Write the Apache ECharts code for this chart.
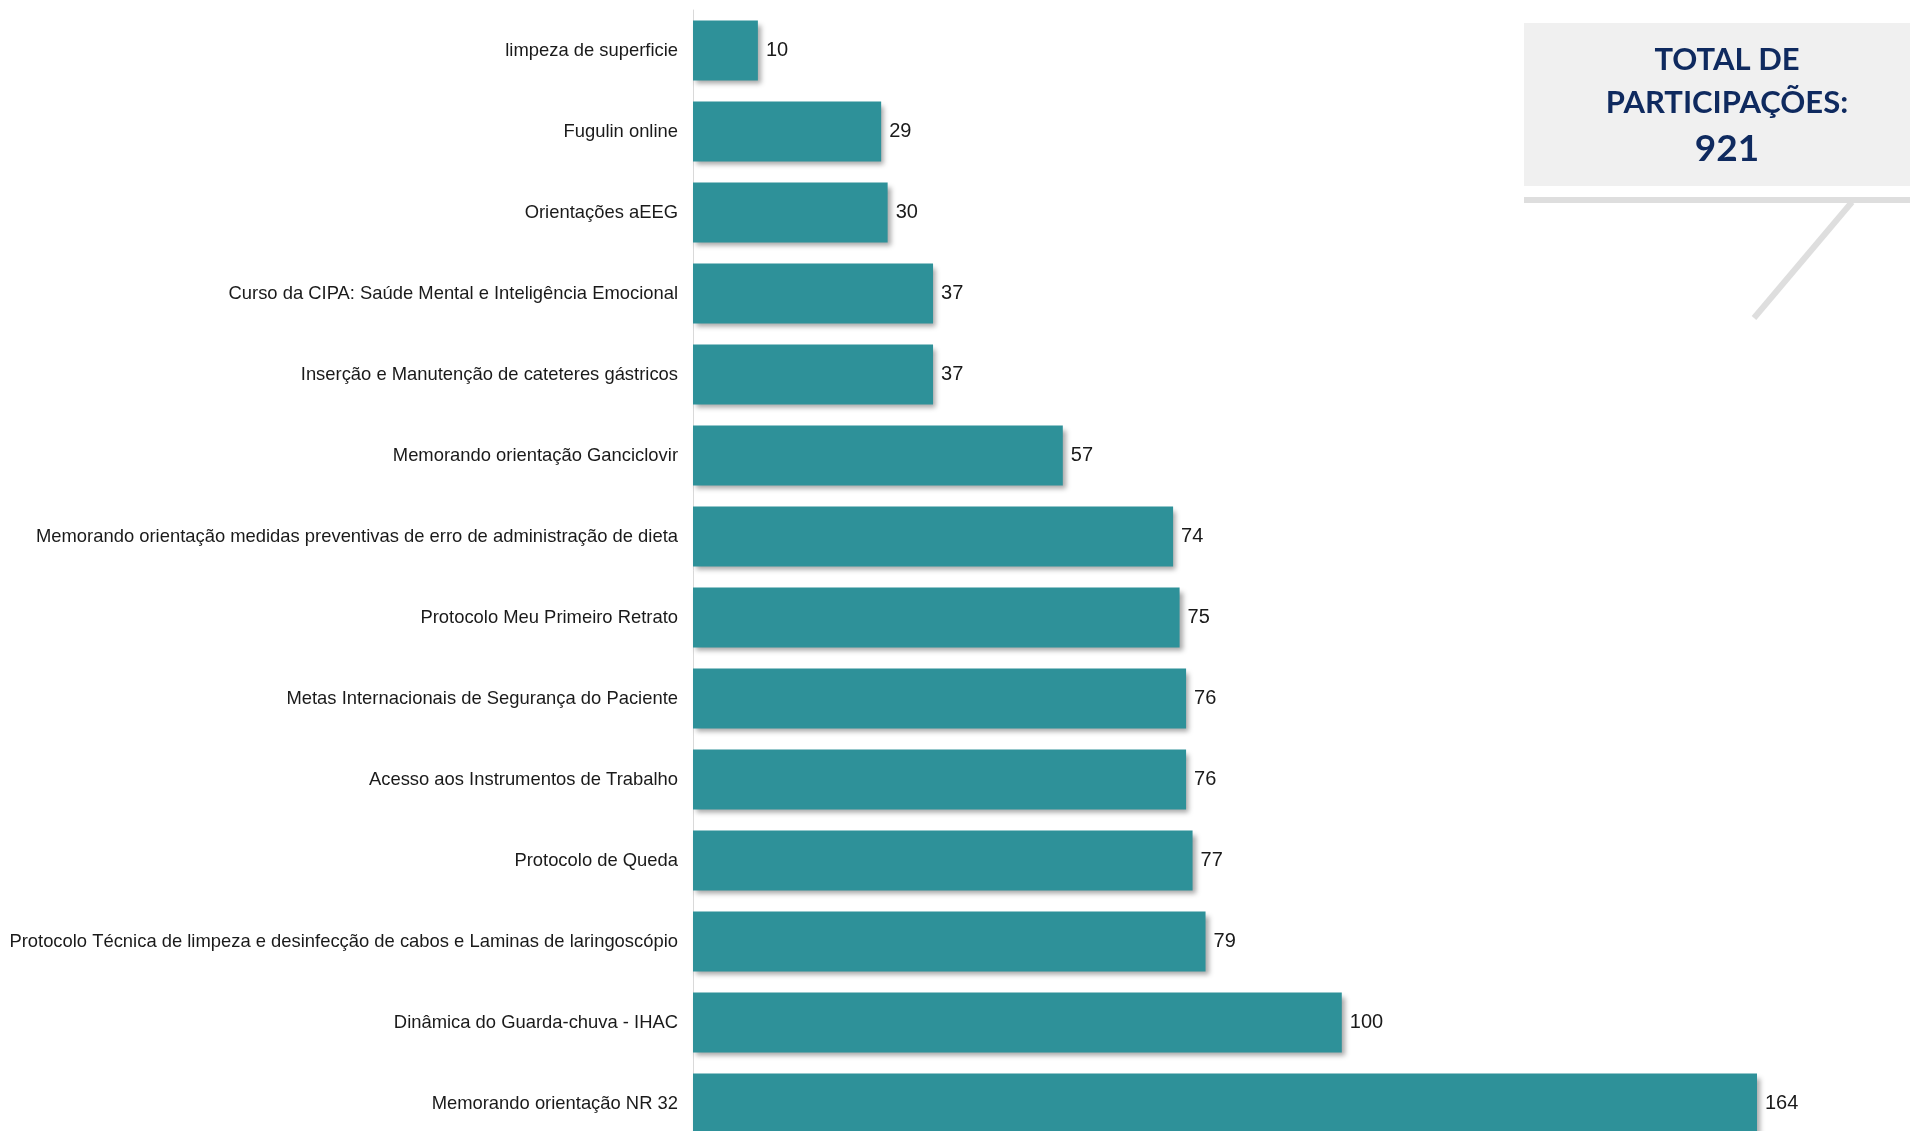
<!DOCTYPE html>
<html>
<head>
<meta charset="utf-8">
<script src="https://cdn.jsdelivr.net/npm/echarts@6/dist/echarts.min.js"></script>
<style>
  html, body { margin: 0; padding: 0; background: #fff; }
  #chart { width: 1910px; height: 1131px; }
</style>
</head>
<body>
<div id="chart"></div>
<script>
// treinamentos, de cima para baixo
const categorias = [
  'limpeza de superficie',
  'Fugulin online',
  'Orientações aEEG',
  'Curso da CIPA: Saúde Mental e Inteligência Emocional',
  'Inserção e Manutenção de cateteres gástricos',
  'Memorando orientação Ganciclovir',
  'Memorando orientação medidas preventivas de erro de administração de dieta',
  'Protocolo Meu Primeiro Retrato',
  'Metas Internacionais de Segurança do Paciente',
  'Acesso aos Instrumentos de Trabalho',
  'Protocolo de Queda',
  'Protocolo Técnica de limpeza e desinfecção de cabos e Laminas de laringoscópio',
  'Dinâmica do Guarda-chuva - IHAC',
  'Memorando orientação NR 32'
];
const participacoes = [10, 29, 30, 37, 37, 57, 74, 75, 76, 76, 77, 79, 100, 164];
const totalTexto = ['TOTAL DE', 'PARTICIPAÇÕES:', '921'];

const labelFont = '"Liberation Sans Narrow", "Liberation Sans", Arial, sans-serif';
const navy = '#0f2a5f';

const chart = echarts.init(document.getElementById('chart'));

const option = {
  backgroundColor: '#ffffff',
  animation: false,
  grid: {
    left: 693,
    top: 10,
    width: 1064,
    height: 1134,
    containLabel: false,
    outerBoundsMode: 'none'
  },
  xAxis: {
    type: 'value',
    min: 0,
    max: 164,
    show: false
  },
  yAxis: {
    type: 'category',
    inverse: true,
    data: categorias,
    axisLine: { show: true, lineStyle: { color: '#d9d9d9', width: 1 } },
    axisTick: { show: false },
    axisLabel: {
      margin: 15,
      color: '#1a1a1a',
      fontSize: 18.4,
      fontFamily: labelFont
    }
  },
  series: [{
    type: 'bar',
    data: participacoes,
    barCategoryGap: '26%',
    itemStyle: {
      color: '#2e9199',
      shadowColor: 'rgba(0, 0, 0, 0.35)',
      shadowBlur: 5,
      shadowOffsetX: 3,
      shadowOffsetY: 4
    },
    label: {
      show: true,
      position: 'right',
      distance: 8,
      color: '#1a1a1a',
      fontSize: 20,
      fontFamily: labelFont
    }
  }],
  graphic: [
    {
      type: 'rect',
      shape: { x: 1524, y: 23, width: 386, height: 163 },
      style: { fill: '#f0f0f0' }
    },
    {
      type: 'rect',
      shape: { x: 1524, y: 197, width: 386, height: 6 },
      style: { fill: '#dedede' }
    },
    {
      type: 'line',
      shape: { x1: 1852, y1: 202, x2: 1754, y2: 318 },
      style: { stroke: '#dedede', lineWidth: 6 }
    },
    {
      type: 'text',
      x: 1727, y: 60,
      style: {
        text: totalTexto[0], fill: navy, font: 'bold 31px Lato, "Open Sans", sans-serif',
        textAlign: 'center', textVerticalAlign: 'middle'
      }
    },
    {
      type: 'text',
      x: 1727, y: 103,
      style: {
        text: totalTexto[1], fill: navy, font: 'bold 31px Lato, "Open Sans", sans-serif',
        textAlign: 'center', textVerticalAlign: 'middle'
      }
    },
    {
      type: 'text',
      x: 1727, y: 149,
      style: {
        text: totalTexto[2], fill: navy, font: 'bold 37px Lato, "Open Sans", sans-serif',
        textAlign: 'center', textVerticalAlign: 'middle'
      }
    }
  ]
};

chart.setOption(option);
</script>
</body>
</html>
